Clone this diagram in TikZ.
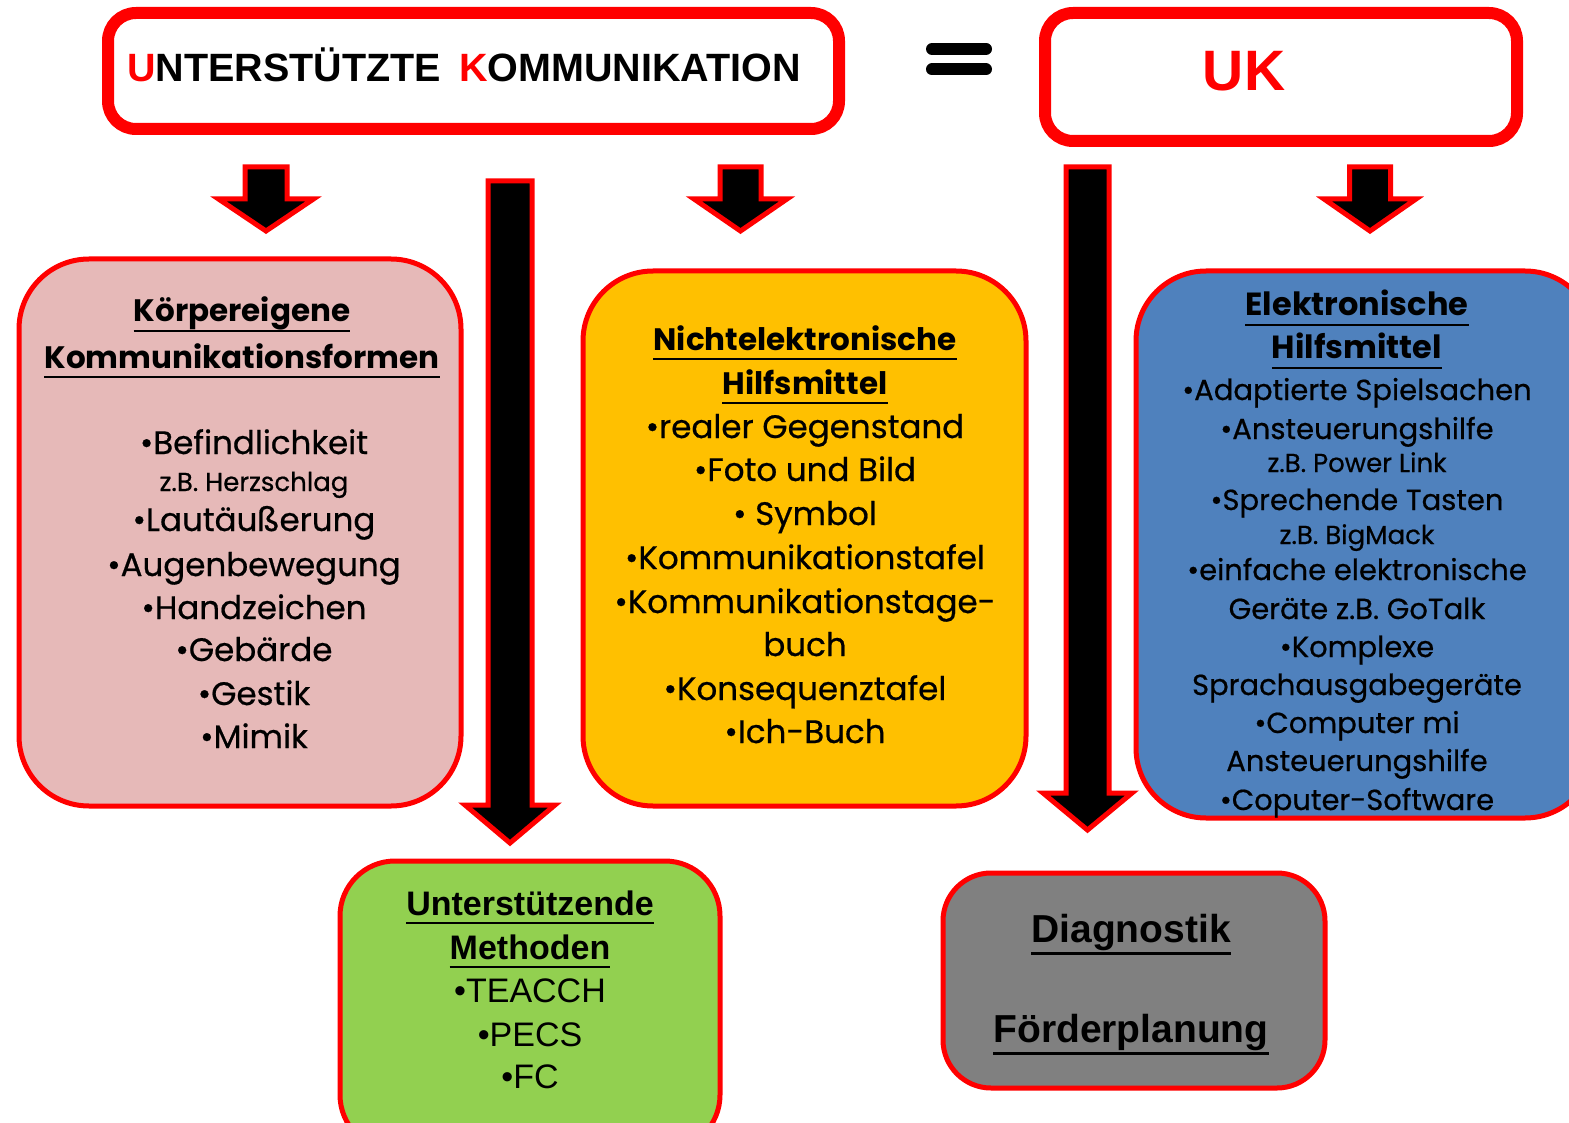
\documentclass[tikz,border=0pt]{standalone}
\usepackage{fontspec}
\setmainfont{Poppins}
\newfontfamily\itemfont{Poppins}[FakeBold=0.6]
\newfontfamily\arialfont{Liberation Sans}
\usetikzlibrary{arrows.meta}

\definecolor{ukred}{RGB}{255,0,0}
\definecolor{rosa}{RGB}{230,185,184}
\definecolor{gelb}{RGB}{255,192,0}
\definecolor{blau}{RGB}{79,129,189}
\definecolor{gruen}{RGB}{146,208,80}
\definecolor{grau}{RGB}{128,128,128}

% block arrow pointing down: centre x, half shaft, half head, top, head base, tip
\newcommand{\dnarrow}[6]{%
  \draw[blockarrow] ({#1-#2},#4) -- ({#1+#2},#4) -- ({#1+#2},#5) -- ({#1+#3},#5)
    -- (#1,#6) -- ({#1-#3},#5) -- ({#1-#2},#5) -- cycle;}

\begin{document}
\begin{tikzpicture}[
    x=1pt, y=-1pt,
    box/.style={draw=ukred, line width=5pt, rounded corners=70pt},
    topbox/.style={draw=ukred, line width=12pt, rounded corners=28pt, fill=white},
    head/.style={anchor=base, inner sep=0pt, font=\bfseries\fontsize{31}{36}\selectfont},
    item/.style={anchor=base, inner sep=0pt, font=\itemfont\fontsize{32.5}{38}\selectfont},
    bitem/.style={item, font=\itemfont\fontsize{29}{34}\selectfont},
    note/.style={anchor=base, inner sep=0pt, font=\itemfont\fontsize{26}{30}\selectfont},
    ahead/.style={anchor=base, inner sep=0pt, font=\arialfont\bfseries\fontsize{34}{40}\selectfont},
    aitem/.style={anchor=base, inner sep=0pt, font=\arialfont\fontsize{34}{40}\selectfont},
    blockarrow/.style={fill=black, draw=ukred, line width=5pt, line join=miter},
    uline/.style={line width=2.5pt}
]
\useasboundingbox (0,0) rectangle (1569,1123);

% Title row
\node[topbox, minimum width=731pt, minimum height=116pt] (titel) at (473.5,71) {};
\node[anchor=base, inner sep=0pt, font=\arialfont\bfseries\fontsize{39.5}{44}\selectfont] (titeltext) at (464,82)
  {\textcolor{ukred}{U}NTERSTÜTZTE\hspace{18pt}\textcolor{ukred}{K}OMMUNIKATION};
\draw[line width=12pt, line cap=round] (932,49) -- (986,49);
\draw[line width=12pt, line cap=round] (932,69.5) -- (986,69.5);
\node[topbox, minimum width=472pt, minimum height=128pt] (uk) at (1281,77) {};
\node[anchor=base, inner sep=0pt, text=ukred, font=\arialfont\bfseries\fontsize{57}{64}\selectfont] (uktext) at (1244,91) {UK};

% Arrows
\dnarrow{266}{21}{47.5}{167}{199}{231}
\dnarrow{740.5}{20.5}{46.5}{167}{199}{231}
\dnarrow{1370}{20.5}{46}{167}{199}{231}
\dnarrow{510}{22}{45}{181}{805}{843}
\dnarrow{1087.5}{21.5}{44.5}{167}{793}{830}

% Koerpereigene Kommunikationsformen
\node[box, fill=rosa, minimum width=442pt, minimum height=547pt] (koerper) at (240,532.5) {};
\node[head] (k1) at (242,322) {Körpereigene};
\node[head] (k2) at (242,368) {Kommunikationsformen};
\node[item] (k3) at (254,454) {•Befindlichkeit};
\node[note] (k4) at (254,491) {z.B. Herzschlag};
\node[item] (k5) at (254,531) {•Lautäußerung};
\node[item] (k6) at (254,576) {•Augenbewegung};
\node[item] (k7) at (254,619) {•Handzeichen};
\node[item] (k8) at (254,661) {•Gebärde};
\node[item] (k9) at (254,705) {•Gestik};
\node[item] (k10) at (254,748) {•Mimik};

% Nichtelektronische Hilfsmittel
\node[box, fill=gelb, minimum width=443pt, minimum height=535pt] (nichtel) at (804.5,538.5) {};
\node[head] (n1) at (805,350) {Nichtelektronische};
\node[head] (n2) at (805,394) {Hilfsmittel};
\node[item] (n3) at (805,438) {•realer Gegenstand};
\node[item] (n4) at (805,481) {•Foto und Bild};
\node[item] (n5) at (805,525) {• Symbol};
\node[item] (n6) at (805,569) {•Kommunikationstafel};
\node[item] (n7) at (805,613) {•Kommunikationstage-};
\node[item] (n8) at (805,656) {buch};
\node[item] (n9) at (805,700) {•Konsequenztafel};
\node[item] (n10) at (805,743) {•Ich-Buch};

% Elektronische Hilfsmittel
\node[box, fill=blau, minimum width=459pt, minimum height=547pt] (elektr) at (1365.5,544.5) {};
\node[head, font=\bfseries\fontsize{32}{36}\selectfont] (e1) at (1357,316) {Elektronische};
\node[head, font=\bfseries\fontsize{32}{36}\selectfont] (e2) at (1357,359) {Hilfsmittel};
\node[bitem] (e3) at (1357,400) {•Adaptierte Spielsachen};
\node[bitem] (e4) at (1357,439) {•Ansteuerungshilfe};
\node[note] (e5) at (1357,472) {z.B. Power Link};
\node[bitem] (e6) at (1357,510) {•Sprechende Tasten};
\node[note] (e7) at (1357,544) {z.B. BigMack};
\node[bitem] (e8) at (1357,580) {•einfache elektronische};
\node[bitem] (e9) at (1357,619) {Geräte z.B. GoTalk};
\node[bitem] (e10) at (1357,657) {•Komplexe};
\node[bitem] (e11) at (1357,695) {Sprachausgabegeräte};
\node[bitem] (e12) at (1357,733) {•Computer mi};
\node[bitem] (e13) at (1357,771) {Ansteuerungshilfe};
\node[bitem] (e14) at (1357,810) {•Coputer-Software};

% Unterstuetzende Methoden
\node[box, fill=gruen, rounded corners=55pt, minimum width=380pt, minimum height=289pt] (methoden) at (530,1005.5) {};
\node[ahead] (m1) at (530,915) {Unterstützende};
\node[ahead] (m2) at (530,959) {Methoden};
\node[aitem] (m3) at (530,1002) {•TEACCH};
\node[aitem] (m4) at (530,1046) {•PECS};
\node[aitem] (m5) at (530,1088) {•FC};

% Diagnostik / Foerderplanung
\node[box, fill=grau, rounded corners=48pt, minimum width=382pt, minimum height=215pt] (diagn) at (1134,980.5) {};
\node[ahead, font=\arialfont\bfseries\fontsize{39}{44}\selectfont] (d1) at (1131,942) {Diagnostik};
\node[ahead, font=\arialfont\bfseries\fontsize{39}{44}\selectfont] (d2) at (1131,1042) {Förderplanung};

% Underlines
\draw[uline] ([yshift=-9pt]k1.base west) -- ([yshift=-9pt]k1.base east);
\draw[uline] ([yshift=-9pt]k2.base west) -- ([yshift=-9pt]k2.base east);
\draw[uline] ([yshift=-9pt]n1.base west) -- ([yshift=-9pt]n1.base east);
\draw[uline] ([yshift=-9pt]n2.base west) -- ([yshift=-9pt]n2.base east);
\draw[uline] ([yshift=-9pt]e1.base west) -- ([yshift=-9pt]e1.base east);
\draw[uline] ([yshift=-9pt]e2.base west) -- ([yshift=-9pt]e2.base east);
\draw[uline] ([yshift=-8pt]m1.base west) -- ([yshift=-8pt]m1.base east);
\draw[uline] ([yshift=-8pt]m2.base west) -- ([yshift=-8pt]m2.base east);
\draw[uline, line width=3pt] ([yshift=-11pt]d1.base west) -- ([yshift=-11pt]d1.base east);
\draw[uline, line width=3pt] ([yshift=-11pt]d2.base west) -- ([yshift=-11pt]d2.base east);
\end{tikzpicture}
\end{document}
